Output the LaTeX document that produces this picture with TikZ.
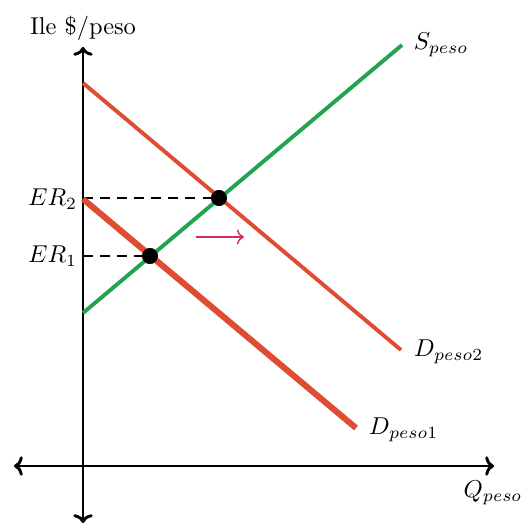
\documentclass[tikz,border=0pt]{standalone}
\usepackage{tikz}
\usetikzlibrary{arrows.meta}
\definecolor{dred}{HTML}{E04B33}
\definecolor{sgreen}{HTML}{22A350}
\definecolor{shiftc}{HTML}{D03060}
\begin{document}
\begin{tikzpicture}[x=0.41pt,y=-0.41pt,
  axis/.style={line width=1.2pt,{To[length=3.6pt,width=8pt]}-{To[length=3.6pt,width=8pt]}},
  demand/.style={dred,line width=1.6pt},
  supply/.style={sgreen,line width=1.6pt},
  guide/.style={dashed,line width=1.2pt,dash pattern=on 4pt off 3pt},
  eqdot/.style={circle,fill=black,inner sep=0pt,minimum size=6.5pt},
  lbl/.style={inner sep=1pt}]
\useasboundingbox (0,0) rectangle (529,528);
% axes
\coordinate (ytop) at (83,47);
\coordinate (ybot) at (83,523);
\coordinate (xl) at (14,466);
\coordinate (xr) at (494,466);
\draw[axis] (ybot) -- (ytop);
\draw[axis] (xl) -- (xr);
% curves
\coordinate (s0) at (83,313);
\coordinate (s1) at (402,45);
\coordinate (d2a) at (83,83);
\coordinate (d2b) at (401,350);
\coordinate (d1a) at (83,199);
\coordinate (d1b) at (356,428);
\coordinate (er2y) at (83,198);
\coordinate (er1y) at (83,256);
\node[eqdot] (e2) at (219,198) {};
\node[eqdot] (e1) at (150,256) {};
\draw[guide] (er2y) -- (e2.center);
\draw[guide] (er1y) -- (e1.center);
\draw[demand] (d2a) -- (d2b);
\draw[demand,line width=2.5pt] (d1a) -- (d1b);
\draw[supply] (s0) -- (s1);
\node[eqdot] at (e2.center) {};
\node[eqdot] at (e1.center) {};
% shift arrow
\coordinate (sh0) at (196,237);
\coordinate (sh1) at (244,237);
\draw[shiftc,line width=0.6pt,->] (sh0) -- (sh1);
% labels
\node[lbl] (ylab) at (83,28) {Ile \$/peso};
\node[lbl,anchor=east] (er2) at (80,199) {$ER_2$};
\node[lbl,anchor=east] (er1) at (80,256) {$ER_1$};
\node[lbl,anchor=west] (slab) at (411,45) {$S_{peso}$};
\node[lbl,anchor=west] (d2lab) at (411,352) {$D_{peso2}$};
\node[lbl,anchor=west] (d1lab) at (366,430) {$D_{peso1}$};
\node[lbl] (qlab) at (493,493) {$Q_{peso}$};
\end{tikzpicture}
\end{document}
